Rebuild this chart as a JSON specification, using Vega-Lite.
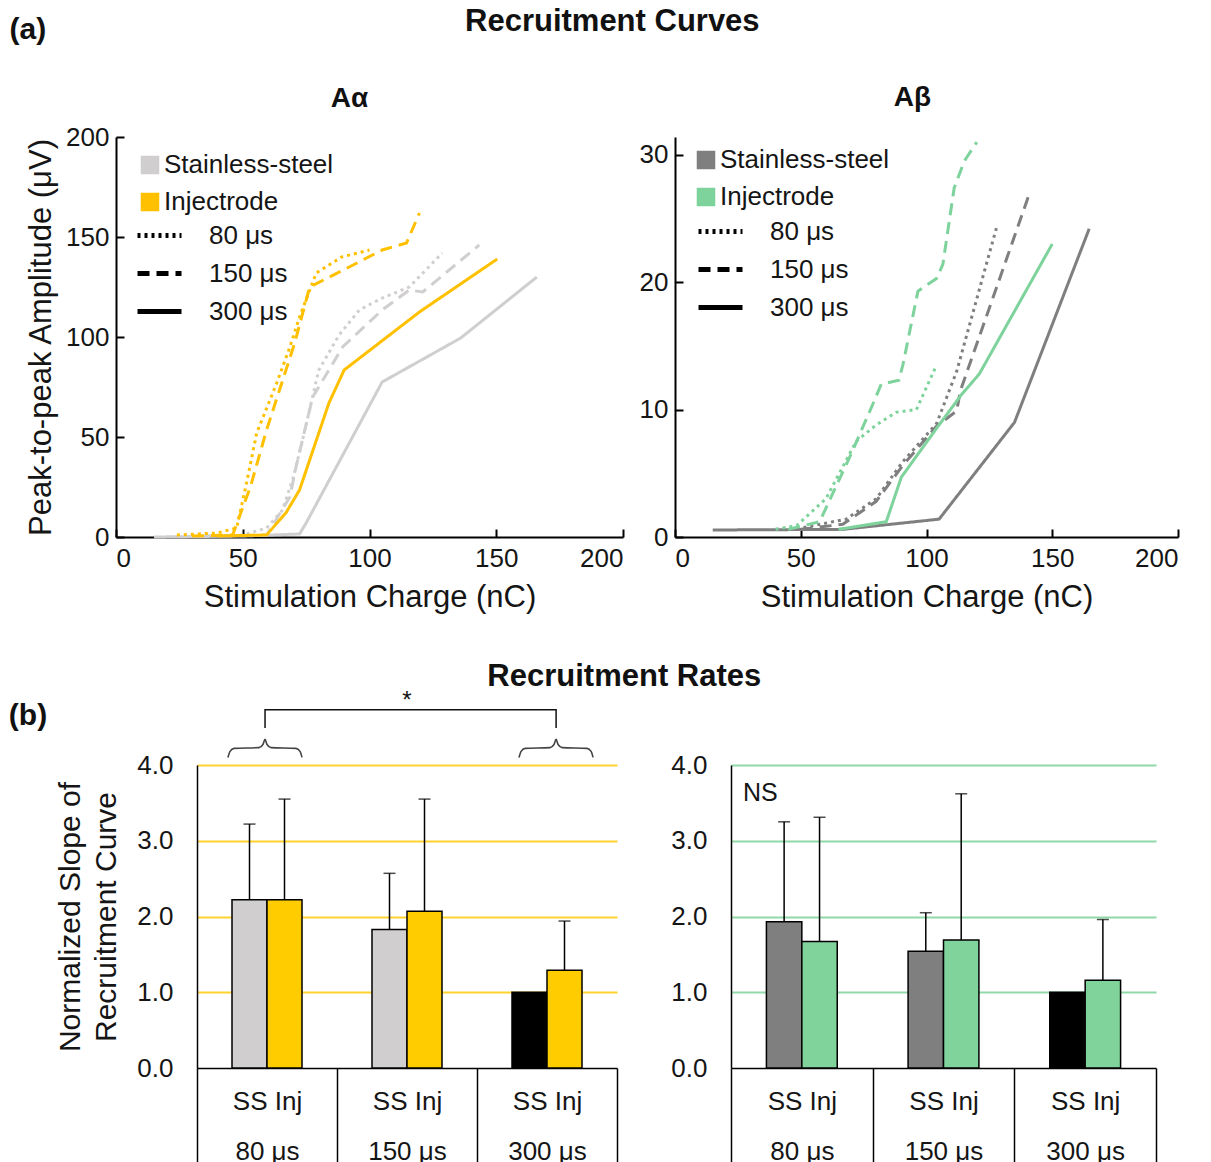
{
 "$schema": "https://vega.github.io/schema/vega-lite/v6.json",
 "padding": {"left": 8, "top": 6, "right": 5, "bottom": 0},
 "background": "white",
 "config": {
  "font": "Liberation Sans",
  "view": {"stroke": null},
  "axis": {"labelFont": "Liberation Sans", "titleFont": "Liberation Sans", "labelFontSize": 26, "titleFontSize": 31, "titleFontWeight": "normal", "labelColor": "#151515", "titleColor": "#151515", "domainColor": "black", "tickColor": "black", "domainWidth": 2, "tickWidth": 2, "grid": false},
  "legend": {"labelFont": "Liberation Sans", "labelFontSize": 26, "labelColor": "#151515", "labelLimit": 400, "padding": 0},
  "title": {"font": "Liberation Sans", "fontWeight": "bold", "color": "#111111"}
 },
 "datasets": {
  "alpha": [
   {"electrode":"Stainless-steel","pulse":"80 μs","charge":35,"amp":0.5},
   {"electrode":"Stainless-steel","pulse":"80 μs","charge":50,"amp":1},
   {"electrode":"Stainless-steel","pulse":"80 μs","charge":59.4,"amp":4.5},
   {"electrode":"Stainless-steel","pulse":"80 μs","charge":65.7,"amp":13.5},
   {"electrode":"Stainless-steel","pulse":"80 μs","charge":70,"amp":30},
   {"electrode":"Stainless-steel","pulse":"80 μs","charge":73.6,"amp":48.5},
   {"electrode":"Stainless-steel","pulse":"80 μs","charge":80,"amp":83.5},
   {"electrode":"Stainless-steel","pulse":"80 μs","charge":88,"amp":101},
   {"electrode":"Stainless-steel","pulse":"80 μs","charge":96,"amp":113.5},
   {"electrode":"Stainless-steel","pulse":"80 μs","charge":105,"amp":119.5},
   {"electrode":"Stainless-steel","pulse":"80 μs","charge":115.7,"amp":125},
   {"electrode":"Stainless-steel","pulse":"80 μs","charge":128.7,"amp":142},
   {"electrode":"Stainless-steel","pulse":"150 μs","charge":35,"amp":0.5},
   {"electrode":"Stainless-steel","pulse":"150 μs","charge":50,"amp":0.8},
   {"electrode":"Stainless-steel","pulse":"150 μs","charge":59.4,"amp":1},
   {"electrode":"Stainless-steel","pulse":"150 μs","charge":68.6,"amp":20},
   {"electrode":"Stainless-steel","pulse":"150 μs","charge":71,"amp":35},
   {"electrode":"Stainless-steel","pulse":"150 μs","charge":77.6,"amp":70},
   {"electrode":"Stainless-steel","pulse":"150 μs","charge":89.4,"amp":95},
   {"electrode":"Stainless-steel","pulse":"150 μs","charge":105,"amp":113.5},
   {"electrode":"Stainless-steel","pulse":"150 μs","charge":115.7,"amp":123.5},
   {"electrode":"Stainless-steel","pulse":"150 μs","charge":121,"amp":122.5},
   {"electrode":"Stainless-steel","pulse":"150 μs","charge":143.3,"amp":146},
   {"electrode":"Stainless-steel","pulse":"300 μs","charge":15,"amp":0},
   {"electrode":"Stainless-steel","pulse":"300 μs","charge":50,"amp":0.5},
   {"electrode":"Stainless-steel","pulse":"300 μs","charge":72.4,"amp":1.5},
   {"electrode":"Stainless-steel","pulse":"300 μs","charge":75,"amp":7},
   {"electrode":"Stainless-steel","pulse":"300 μs","charge":105,"amp":77.5},
   {"electrode":"Stainless-steel","pulse":"300 μs","charge":136,"amp":99.5},
   {"electrode":"Stainless-steel","pulse":"300 μs","charge":166,"amp":130},
   {"electrode":"Injectrode","pulse":"80 μs","charge":24,"amp":1},
   {"electrode":"Injectrode","pulse":"80 μs","charge":40,"amp":2},
   {"electrode":"Injectrode","pulse":"80 μs","charge":47.6,"amp":4.5},
   {"electrode":"Injectrode","pulse":"80 μs","charge":51.5,"amp":27},
   {"electrode":"Injectrode","pulse":"80 μs","charge":55.5,"amp":52},
   {"electrode":"Injectrode","pulse":"80 μs","charge":63.4,"amp":77},
   {"electrode":"Injectrode","pulse":"80 μs","charge":68.6,"amp":95},
   {"electrode":"Injectrode","pulse":"80 μs","charge":72.4,"amp":110},
   {"electrode":"Injectrode","pulse":"80 μs","charge":79,"amp":132},
   {"electrode":"Injectrode","pulse":"80 μs","charge":89,"amp":140},
   {"electrode":"Injectrode","pulse":"80 μs","charge":100,"amp":143.5},
   {"electrode":"Injectrode","pulse":"150 μs","charge":30,"amp":0.5},
   {"electrode":"Injectrode","pulse":"150 μs","charge":46,"amp":1},
   {"electrode":"Injectrode","pulse":"150 μs","charge":53,"amp":25},
   {"electrode":"Injectrode","pulse":"150 μs","charge":59.4,"amp":53.5},
   {"electrode":"Injectrode","pulse":"150 μs","charge":70.5,"amp":97},
   {"electrode":"Injectrode","pulse":"150 μs","charge":76.4,"amp":125},
   {"electrode":"Injectrode","pulse":"150 μs","charge":92,"amp":135},
   {"electrode":"Injectrode","pulse":"150 μs","charge":105,"amp":143.5},
   {"electrode":"Injectrode","pulse":"150 μs","charge":114.6,"amp":147},
   {"electrode":"Injectrode","pulse":"150 μs","charge":119.7,"amp":162},
   {"electrode":"Injectrode","pulse":"300 μs","charge":40,"amp":0.5},
   {"electrode":"Injectrode","pulse":"300 μs","charge":59.4,"amp":1},
   {"electrode":"Injectrode","pulse":"300 μs","charge":67,"amp":12},
   {"electrode":"Injectrode","pulse":"300 μs","charge":72.4,"amp":23.5},
   {"electrode":"Injectrode","pulse":"300 μs","charge":84,"amp":67},
   {"electrode":"Injectrode","pulse":"300 μs","charge":90,"amp":83.5},
   {"electrode":"Injectrode","pulse":"300 μs","charge":119.7,"amp":112.5},
   {"electrode":"Injectrode","pulse":"300 μs","charge":150.4,"amp":139}
  ],
  "beta": [
   {"electrode":"Stainless-steel","pulse":"80 μs","charge":40,"amp":0.6},
   {"electrode":"Stainless-steel","pulse":"80 μs","charge":50,"amp":0.7},
   {"electrode":"Stainless-steel","pulse":"80 μs","charge":68,"amp":1.4},
   {"electrode":"Stainless-steel","pulse":"80 μs","charge":80,"amp":3},
   {"electrode":"Stainless-steel","pulse":"80 μs","charge":90.5,"amp":5.9},
   {"electrode":"Stainless-steel","pulse":"80 μs","charge":104,"amp":8.9},
   {"electrode":"Stainless-steel","pulse":"80 μs","charge":112,"amp":13},
   {"electrode":"Stainless-steel","pulse":"80 μs","charge":128,"amp":24.4},
   {"electrode":"Stainless-steel","pulse":"150 μs","charge":50,"amp":0.6},
   {"electrode":"Stainless-steel","pulse":"150 μs","charge":66.7,"amp":1},
   {"electrode":"Stainless-steel","pulse":"150 μs","charge":80,"amp":2.8},
   {"electrode":"Stainless-steel","pulse":"150 μs","charge":90.5,"amp":5.6},
   {"electrode":"Stainless-steel","pulse":"150 μs","charge":104,"amp":8.7},
   {"electrode":"Stainless-steel","pulse":"150 μs","charge":112,"amp":9.9},
   {"electrode":"Stainless-steel","pulse":"150 μs","charge":113.5,"amp":11.5},
   {"electrode":"Stainless-steel","pulse":"150 μs","charge":141,"amp":27},
   {"electrode":"Stainless-steel","pulse":"300 μs","charge":15,"amp":0.55},
   {"electrode":"Stainless-steel","pulse":"300 μs","charge":66.7,"amp":0.6},
   {"electrode":"Stainless-steel","pulse":"300 μs","charge":105,"amp":1.4},
   {"electrode":"Stainless-steel","pulse":"300 μs","charge":135,"amp":9},
   {"electrode":"Stainless-steel","pulse":"300 μs","charge":164.7,"amp":24.2},
   {"electrode":"Injectrode","pulse":"80 μs","charge":40,"amp":0.6},
   {"electrode":"Injectrode","pulse":"80 μs","charge":48.4,"amp":0.9},
   {"electrode":"Injectrode","pulse":"80 μs","charge":60,"amp":3},
   {"electrode":"Injectrode","pulse":"80 μs","charge":72,"amp":7.5},
   {"electrode":"Injectrode","pulse":"80 μs","charge":80,"amp":8.8},
   {"electrode":"Injectrode","pulse":"80 μs","charge":88,"amp":9.8},
   {"electrode":"Injectrode","pulse":"80 μs","charge":96,"amp":10},
   {"electrode":"Injectrode","pulse":"80 μs","charge":104,"amp":13.5},
   {"electrode":"Injectrode","pulse":"150 μs","charge":45,"amp":0.6},
   {"electrode":"Injectrode","pulse":"150 μs","charge":57.5,"amp":1.2},
   {"electrode":"Injectrode","pulse":"150 μs","charge":70,"amp":6.5},
   {"electrode":"Injectrode","pulse":"150 μs","charge":78.6,"amp":10.4},
   {"electrode":"Injectrode","pulse":"150 μs","charge":82,"amp":12},
   {"electrode":"Injectrode","pulse":"150 μs","charge":89,"amp":12.3},
   {"electrode":"Injectrode","pulse":"150 μs","charge":90.6,"amp":13.5},
   {"electrode":"Injectrode","pulse":"150 μs","charge":96.6,"amp":19.3},
   {"electrode":"Injectrode","pulse":"150 μs","charge":104,"amp":20.3},
   {"electrode":"Injectrode","pulse":"150 μs","charge":106.5,"amp":21.4},
   {"electrode":"Injectrode","pulse":"150 μs","charge":111,"amp":27.4},
   {"electrode":"Injectrode","pulse":"150 μs","charge":115,"amp":29.5},
   {"electrode":"Injectrode","pulse":"150 μs","charge":120,"amp":31},
   {"electrode":"Injectrode","pulse":"300 μs","charge":65,"amp":0.6},
   {"electrode":"Injectrode","pulse":"300 μs","charge":84,"amp":1.2},
   {"electrode":"Injectrode","pulse":"300 μs","charge":90,"amp":4.7},
   {"electrode":"Injectrode","pulse":"300 μs","charge":105,"amp":8.8},
   {"electrode":"Injectrode","pulse":"300 μs","charge":114,"amp":11.2},
   {"electrode":"Injectrode","pulse":"300 μs","charge":121,"amp":12.8},
   {"electrode":"Injectrode","pulse":"300 μs","charge":150,"amp":23}
  ],
  "barsA": [
   {"pw":"80 μs","mat":"SS","value":2.22,"upper":3.22},
   {"pw":"80 μs","mat":"Inj","value":2.22,"upper":3.55},
   {"pw":"150 μs","mat":"SS","value":1.83,"upper":2.57},
   {"pw":"150 μs","mat":"Inj","value":2.07,"upper":3.55},
   {"pw":"300 μs","mat":"SS","value":1.0,"upper":null},
   {"pw":"300 μs","mat":"Inj","value":1.29,"upper":1.94}
  ],
  "barsB": [
   {"pw":"80 μs","mat":"SS","value":1.93,"upper":3.25},
   {"pw":"80 μs","mat":"Inj","value":1.67,"upper":3.31},
   {"pw":"150 μs","mat":"SS","value":1.54,"upper":2.05},
   {"pw":"150 μs","mat":"Inj","value":1.69,"upper":3.62},
   {"pw":"300 μs","mat":"SS","value":1.0,"upper":null},
   {"pw":"300 μs","mat":"Inj","value":1.16,"upper":1.96}
  ],
  "annot": [
   {"part":"brace1","i":0,"qx":0.221,"value":4.1},
   {"part":"brace1","i":1,"qx":0.236,"value":4.18},
   {"part":"brace1","i":2,"qx":0.264,"value":4.22},
   {"part":"brace1","i":3,"qx":0.443,"value":4.23},
   {"part":"brace1","i":4,"qx":0.471,"value":4.27},
   {"part":"brace1","i":5,"qx":0.486,"value":4.34},
   {"part":"brace1","i":6,"qx":0.5,"value":4.27},
   {"part":"brace1","i":7,"qx":0.529,"value":4.23},
   {"part":"brace1","i":8,"qx":0.707,"value":4.22},
   {"part":"brace1","i":9,"qx":0.736,"value":4.18},
   {"part":"brace1","i":10,"qx":0.75,"value":4.1},
   {"part":"brace2","i":0,"qx":2.3,"value":4.1},
   {"part":"brace2","i":1,"qx":2.315,"value":4.18},
   {"part":"brace2","i":2,"qx":2.343,"value":4.22},
   {"part":"brace2","i":3,"qx":2.522,"value":4.23},
   {"part":"brace2","i":4,"qx":2.55,"value":4.27},
   {"part":"brace2","i":5,"qx":2.565,"value":4.34},
   {"part":"brace2","i":6,"qx":2.579,"value":4.27},
   {"part":"brace2","i":7,"qx":2.608,"value":4.23},
   {"part":"brace2","i":8,"qx":2.786,"value":4.22},
   {"part":"brace2","i":9,"qx":2.815,"value":4.18},
   {"part":"brace2","i":10,"qx":2.829,"value":4.1},
   {"part":"bracket","i":0,"qx":0.486,"value":4.49},
   {"part":"bracket","i":1,"qx":0.486,"value":4.73},
   {"part":"bracket","i":2,"qx":2.565,"value":4.73},
   {"part":"bracket","i":3,"qx":2.565,"value":4.49}
  ]
 },
 "spacing": 49,
 "vconcat": [
  {
   "title": {"text": "(a)", "anchor": "start", "fontSize": 30, "offset": 0, "dx": -16, "dy": 39},
   "vconcat": [
    {
     "title": {"text": "Recruitment Curves", "anchor": "middle", "fontSize": 31, "offset": 46, "dx": 10},
     "bounds": "flush",
     "spacing": 52,
     "resolve": {"scale": {"x": "independent", "y": "independent", "color": "independent", "strokeDash": "independent"}, "legend": {"color": "independent", "strokeDash": "independent"}},
     "hconcat": [
      {
       "width": 507, "height": 400,
       "title": {"text": "Aα", "fontSize": 28, "offset": 11, "dx": -20},
       "data": {"name": "alpha"},
       "encoding": {
        "x": {"field": "charge", "type": "quantitative", "scale": {"domain": [0, 200], "nice": false}, "axis": {"values": [0, 50, 100, 150, 200], "title": "Stimulation Charge (nC)", "tickSize": -8, "labelPadding": 16, "titlePadding": 11}},
        "y": {"field": "amp", "type": "quantitative", "scale": {"domain": [0, 200], "nice": false}, "axis": {"values": [0, 50, 100, 150, 200], "title": "Peak-to-peak Amplitude (μV)", "tickSize": -8, "labelPadding": 15, "titlePadding": 8}}
       },
       "layer": [
        {
         "mark": {"type": "square", "filled": true, "opacity": 0, "stroke": "black", "strokeWidth": 1},
         "encoding": {
          "color": {"field": "electrode", "type": "nominal", "scale": {"domain": ["Stainless-steel", "Injectrode"], "range": ["#D0CECE", "#FFC000"]},
           "legend": {"orient": "none", "legendX": 21, "legendY": 15, "title": null, "symbolType": "square", "symbolSize": 290, "labelOffset": 1, "rowPadding": 11, "padding": 0}}
         }
        },
        {
         "mark": {"type": "line"},
         "encoding": {
          "color": {"field": "electrode", "type": "nominal", "scale": {"domain": ["Stainless-steel", "Injectrode"], "range": ["#D0CECE", "#FFC000"]}, "legend": null},
          "strokeDash": {"field": "pulse", "type": "nominal", "scale": {"domain": ["80 μs", "150 μs", "300 μs"], "range": [[3, 4], [12, 7], [1, 0]]},
           "legend": {"orient": "none", "legendX": 19, "legendY": 74, "title": null, "symbolType": "stroke", "symbolSize": 1936, "symbolStrokeColor": "black", "symbolStrokeWidth": 5, "labelOffset": 25, "rowPadding": 0, "padding": 0}},
          "strokeWidth": {"value": 3}
         }
        }
       ]
      },
      {
       "width": 503, "height": 400,
       "title": {"text": "Aβ", "fontSize": 28, "offset": 24, "dx": -14},
       "data": {"name": "beta"},
       "encoding": {
        "x": {"field": "charge", "type": "quantitative", "scale": {"domain": [0, 200], "nice": false}, "axis": {"values": [0, 50, 100, 150, 200], "title": "Stimulation Charge (nC)", "tickSize": -8, "labelPadding": 16, "titlePadding": 11}},
        "y": {"field": "amp", "type": "quantitative", "scale": {"domain": [0, 31.4], "nice": false}, "axis": {"values": [0, 10, 20, 30], "title": null, "tickSize": -8, "labelPadding": 15}}
       },
       "layer": [
        {
         "mark": {"type": "square", "filled": true, "opacity": 0, "stroke": "black", "strokeWidth": 1},
         "encoding": {
          "color": {"field": "electrode", "type": "nominal", "scale": {"domain": ["Stainless-steel", "Injectrode"], "range": ["#7F7F7F", "#7DD39B"]},
           "legend": {"orient": "none", "legendX": 18, "legendY": 10, "title": null, "symbolType": "square", "symbolSize": 290, "labelOffset": 1, "rowPadding": 11, "padding": 0}}
         }
        },
        {
         "mark": {"type": "line"},
         "encoding": {
          "color": {"field": "electrode", "type": "nominal", "scale": {"domain": ["Stainless-steel", "Injectrode"], "range": ["#7F7F7F", "#7DD39B"]}, "legend": null},
          "strokeDash": {"field": "pulse", "type": "nominal", "scale": {"domain": ["80 μs", "150 μs", "300 μs"], "range": [[3, 4], [12, 7], [1, 0]]},
           "legend": {"orient": "none", "legendX": 21, "legendY": 70, "title": null, "symbolType": "stroke", "symbolSize": 1936, "symbolStrokeColor": "black", "symbolStrokeWidth": 5, "labelOffset": 25, "rowPadding": 0, "padding": 0}},
          "strokeWidth": {"value": 3}
         }
        }
       ]
      }
     ]
    }
   ]
  },
  {
   "title": {"text": "(b)", "anchor": "start", "fontSize": 30, "offset": 0, "dx": -47, "dy": 70},
   "vconcat": [
    {
     "title": {"text": "Recruitment Rates", "anchor": "middle", "fontSize": 31, "offset": -4, "dx": 18},
     "bounds": "flush",
     "spacing": 114,
     "resolve": {"scale": {"x": "independent", "y": "independent", "color": "independent", "xOffset": "independent"}},
     "hconcat": [
      {
       "width": 501, "height": 303,
       "resolve": {"scale": {"x": "independent"}},
       "layer": [
        {
         "data": {"name": "barsA"},
         "encoding": {
          "x": {"field": "pw", "type": "nominal", "scale": {"domain": ["80 μs", "150 μs", "300 μs"], "range": [81, 501], "paddingInner": 0, "paddingOuter": 0},
           "axis": {"title": null, "labelAngle": 0, "tickBand": "extent", "tickSize": 100, "tickWidth": 1.5, "domainWidth": 1.5, "labelExpr": "datum.label ? ['SS Inj', datum.label] : ''", "labelLineHeight": 50, "labelPadding": -80}},
          "xOffset": {"field": "mat", "type": "nominal", "scale": {"domain": ["SS", "Inj"], "paddingInner": 0, "paddingOuter": 1}}
         },
         "layer": [
          {
           "mark": {"type": "bar", "stroke": "black", "strokeWidth": 1.5},
           "encoding": {
            "y": {"field": "value", "type": "quantitative", "scale": {"domain": [0, 4], "nice": false},
             "axis": {"values": [0, 1, 2, 3, 4], "format": ".1f", "grid": true, "gridColor": "#FFD22E", "gridWidth": 2, "gridOpacity": {"condition": {"test": "datum.value === 0", "value": 0}, "value": 1}, "ticks": false, "labelPadding": 24, "domainWidth": 1.5, "offset": -81, "title": ["Normalized Slope of", "Recruitment Curve"], "titleFontSize": 30, "titleLineHeight": 36, "titlePadding": 15}},
            "color": {"condition": {"test": "datum.pw === '300 μs' && datum.mat === 'SS'", "value": "black"}, "field": "mat", "type": "nominal", "scale": {"domain": ["SS", "Inj"], "range": ["#D0CECE", "#FFCC00"]}, "legend": null}
           }
          },
          {
           "transform": [{"filter": "datum.upper != null"}],
           "mark": {"type": "rule", "color": "black", "strokeWidth": 1.5},
           "encoding": {
            "y": {"field": "value", "type": "quantitative", "scale": {"domain": [0, 4], "nice": false}, "title": ["Normalized Slope of", "Recruitment Curve"]},
            "y2": {"field": "upper"}
           }
          },
          {
           "transform": [{"filter": "datum.upper != null"}],
           "mark": {"type": "tick", "color": "black", "thickness": 1.5, "size": 12},
           "encoding": {
            "y": {"field": "upper", "type": "quantitative", "scale": {"domain": [0, 4], "nice": false}, "title": ["Normalized Slope of", "Recruitment Curve"]}
           }
          }
         ]
        },
        {
         "data": {"name": "annot"},
         "transform": [{"filter": "datum.part !== 'bracket'"}],
         "mark": {"type": "line", "interpolate": "monotone", "color": "#444444", "strokeWidth": 1.6},
         "encoding": {
          "x": {"field": "qx", "type": "quantitative", "scale": {"domain": [0, 3], "range": [81, 501], "nice": false}, "axis": null},
          "y": {"field": "value", "type": "quantitative", "scale": {"domain": [0, 4], "nice": false}, "title": ["Normalized Slope of", "Recruitment Curve"]},
          "detail": {"field": "part"},
          "order": {"field": "i"}
         }
        },
        {
         "data": {"name": "annot"},
         "transform": [{"filter": "datum.part === 'bracket'"}],
         "mark": {"type": "line", "color": "#111111", "strokeWidth": 1.5},
         "encoding": {
          "x": {"field": "qx", "type": "quantitative", "scale": {"domain": [0, 3], "range": [81, 501], "nice": false}, "axis": null},
          "y": {"field": "value", "type": "quantitative", "scale": {"domain": [0, 4], "nice": false}, "title": ["Normalized Slope of", "Recruitment Curve"]},
          "order": {"field": "i"}
         }
        },
        {
         "data": {"values": [{"label": "*", "qx": 1.5, "value": 4.84}]},
         "mark": {"type": "text", "fontSize": 24, "baseline": "middle", "color": "#111111"},
         "encoding": {
          "x": {"field": "qx", "type": "quantitative", "scale": {"domain": [0, 3], "range": [81, 501], "nice": false}, "axis": null},
          "y": {"field": "value", "type": "quantitative", "scale": {"domain": [0, 4], "nice": false}, "title": ["Normalized Slope of", "Recruitment Curve"]},
          "text": {"field": "label"}
         }
        }
       ]
      },
      {
       "width": 425, "height": 303,
       "layer": [
        {
         "data": {"name": "barsB"},
         "encoding": {
          "x": {"field": "pw", "type": "nominal", "scale": {"domain": ["80 μs", "150 μs", "300 μs"], "paddingInner": 0, "paddingOuter": 0},
           "axis": {"title": null, "labelAngle": 0, "tickBand": "extent", "tickSize": 100, "tickWidth": 1.5, "domainWidth": 1.5, "labelExpr": "datum.label ? ['SS Inj', datum.label] : ''", "labelLineHeight": 50, "labelPadding": -80}},
          "xOffset": {"field": "mat", "type": "nominal", "scale": {"domain": ["SS", "Inj"], "paddingInner": 0, "paddingOuter": 1}}
         },
         "layer": [
          {
           "mark": {"type": "bar", "stroke": "black", "strokeWidth": 1.5},
           "encoding": {
            "y": {"field": "value", "type": "quantitative", "scale": {"domain": [0, 4], "nice": false},
             "axis": {"values": [0, 1, 2, 3, 4], "format": ".1f", "grid": true, "gridColor": "#8FD9A8", "gridWidth": 2, "gridOpacity": {"condition": {"test": "datum.value === 0", "value": 0}, "value": 1}, "ticks": false, "labelPadding": 24, "domainWidth": 1.5, "title": null}},
            "color": {"condition": {"test": "datum.pw === '300 μs' && datum.mat === 'SS'", "value": "black"}, "field": "mat", "type": "nominal", "scale": {"domain": ["SS", "Inj"], "range": ["#7F7F7F", "#7FD39B"]}, "legend": null}
           }
          },
          {
           "transform": [{"filter": "datum.upper != null"}],
           "mark": {"type": "rule", "color": "black", "strokeWidth": 1.5},
           "encoding": {
            "y": {"field": "value", "type": "quantitative", "scale": {"domain": [0, 4], "nice": false}, "title": null},
            "y2": {"field": "upper"}
           }
          },
          {
           "transform": [{"filter": "datum.upper != null"}],
           "mark": {"type": "tick", "color": "black", "thickness": 1.5, "size": 12},
           "encoding": {
            "y": {"field": "upper", "type": "quantitative", "scale": {"domain": [0, 4], "nice": false}, "title": null}
           }
          }
         ]
        },
        {
         "data": {"values": [{"label": "NS"}]},
         "mark": {"type": "text", "fontSize": 25, "align": "left", "baseline": "middle", "dx": 12, "color": "#151515"},
         "encoding": {
          "x": {"datum": "80 μs", "type": "nominal", "bandPosition": 0},
          "y": {"datum": 3.63, "type": "quantitative"},
          "text": {"field": "label"}
         }
        }
       ]
      }
     ]
    }
   ]
  }
 ]
}
